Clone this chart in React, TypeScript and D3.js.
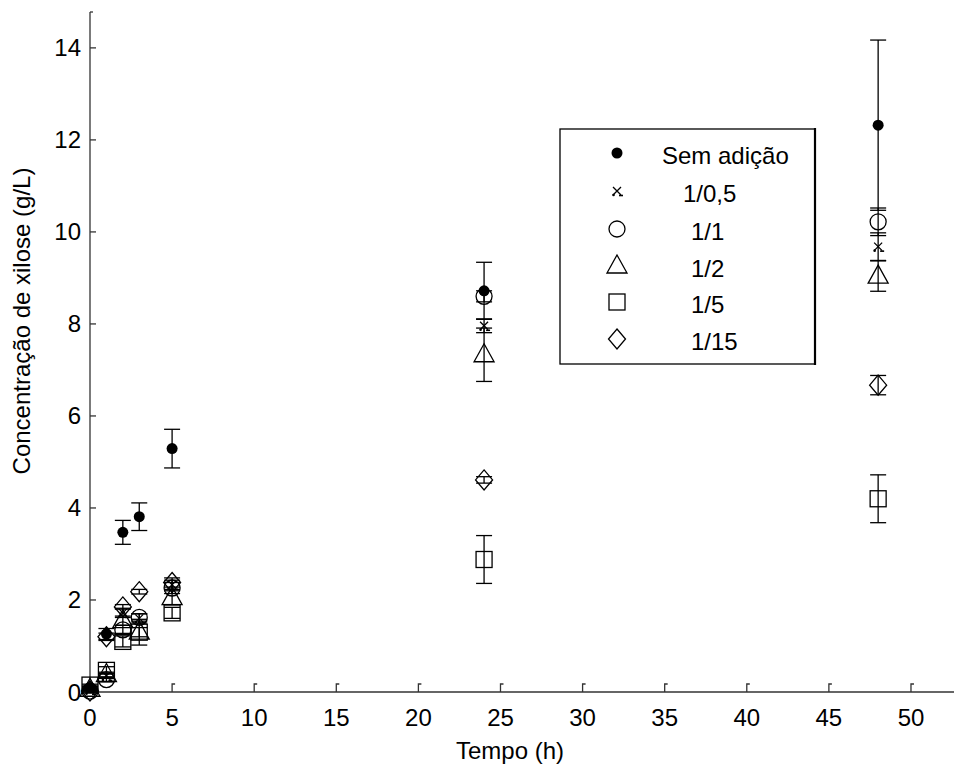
import React from "react";
import * as d3 from "d3";

const times = [0, 1, 2, 3, 5, 24, 48];
const seriesNames = ["Sem adição", "1/0,5", "1/1", "1/2", "1/5", "1/15"];
const semAdicao = [0.09, 1.26, 3.47, 3.81, 5.29, 8.72, 12.32];
const semAdicaoErr = [0.03, 0.12, 0.26, 0.3, 0.42, 0.62, 1.85];
const r1_05 = [0.05, 0.35, 1.72, 1.6, 2.33, 7.96, 9.68];
const r1_05Err = [0.03, 0.05, 0.1, 0.1, 0.1, 0.15, 0.3];
const r1_1 = [0.02, 0.27, 1.35, 1.62, 2.26, 8.6, 10.22];
const r1_1Err = [0.02, 0.05, 0.1, 0.08, 0.12, 0.12, 0.3];
const r1_2 = [0.06, 0.38, 1.55, 1.3, 2.05, 7.33, 9.04];
const r1_2Err = [0.03, 0.05, 0.1, 0.28, 0.15, 0.58, 0.33];
const r1_5 = [0.15, 0.47, 1.1, 1.3, 1.72, 2.88, 4.2];
const r1_5Err = [0.02, 0.08, 0.12, 0.1, 0.12, 0.52, 0.52];
const r1_15 = [0.02, 1.2, 1.85, 2.18, 2.38, 4.61, 6.67];
const r1_15Err = [0.02, 0.08, 0.05, 0.05, 0.1, 0.07, 0.21];
const xTicks = [0, 5, 10, 15, 20, 25, 30, 35, 40, 45, 50];
const yTicks = [0, 2, 4, 6, 8, 10, 12, 14];
const markers = ["dot", "x", "circle", "triangle", "square", "diamond"];

const values = [semAdicao, r1_05, r1_1, r1_2, r1_5, r1_15];
const errors = [semAdicaoErr, r1_05Err, r1_1Err, r1_2Err, r1_5Err, r1_15Err];

const W = 954;
const H = 772;
const FONT = "'Liberation Sans', Arial, sans-serif";

const x = d3.scaleLinear().domain([0, 52.62]).range([90, 954]);
const y = d3.scaleLinear().domain([0, 14.78]).range([692, 12]);

function Marker({ kind, cx, cy }: { kind: string; cx: number; cy: number }) {
  const s = { stroke: "#000", strokeWidth: 1.3, fill: "none" };
  if (kind === "dot") return <circle cx={cx} cy={cy} r={5.5} fill="#000" />;
  if (kind === "circle") return <circle cx={cx} cy={cy} r={8} {...s} />;
  if (kind === "square")
    return <rect x={cx - 8} y={cy - 8} width={16} height={16} {...s} />;
  if (kind === "triangle")
    return (
      <path
        d={`M${cx},${cy - 11} L${cx + 10},${cy + 7} L${cx - 10},${cy + 7} Z`}
        {...s}
      />
    );
  if (kind === "diamond")
    return (
      <path
        d={`M${cx},${cy - 10} L${cx + 8.5},${cy} L${cx},${cy + 10} L${cx - 8.5},${cy} Z`}
        {...s}
      />
    );
  // x marker with small dash
  return (
    <g>
      <path
        d={`M${cx - 4},${cy - 4} L${cx + 4},${cy + 4} M${cx + 4},${cy - 4} L${cx - 4},${cy + 4}`}
        {...s}
      />
      <path d={`M${cx + 2},${cy + 4.5} h4`} stroke="#000" strokeWidth={1.6} />
      <circle cx={cx - 3.5} cy={cy + 4} r={1.3} fill="#000" />
    </g>
  );
}

export default function App() {
  const legendX = 617;
  const legendRows = [153, 191, 229, 266, 302, 339];
  const legendTextX = [662, 683, 691, 691, 691, 691];
  return (
    <svg
      width={W}
      height={H}
      style={{ position: "absolute", left: 0, top: 0, background: "#fff" }}
      fontFamily={FONT}
    >
      <rect x={0} y={0} width={W} height={H} fill="#fff" />
      {/* axes */}
      <line x1={x(0)} x2={x(0)} y1={y(14.78)} y2={y(0)} stroke="#333" strokeWidth={1.3} />
      <line x1={x(0)} x2={W} y1={y(0)} y2={y(0)} stroke="#333" strokeWidth={1.3} />
      <path d={`M${x(0)},${y(14.78)} h3`} stroke="#333" strokeWidth={1.3} />
      {yTicks.map((t) => (
        <g key={"yt" + t}>
          <line x1={x(0)} x2={x(0) + 6} y1={y(t)} y2={y(t)} stroke="#333" strokeWidth={1.3} />
          <text
            x={81}
            y={y(t)}
            textAnchor="end"
            dominantBaseline="central"
            fontSize={24}
            fill="#000"
          >
            {t}
          </text>
        </g>
      ))}
      {xTicks.map((t) => (
        <g key={"xt" + t}>
          {t > 0 && (
            <path
              d={`M${x(t)},${y(0)} V${y(0) - 8} h3`}
              stroke="#333"
              strokeWidth={1.3}
              fill="none"
            />
          )}
          <text x={x(t)} y={726} textAnchor="middle" fontSize={24} fill="#000">
            {t}
          </text>
        </g>
      ))}
      <text x={510} y={759} textAnchor="middle" fontSize={24} fill="#000">
        Tempo (h)
      </text>
      <text
        transform={`translate(30,321) rotate(-90)`}
        textAnchor="middle"
        fontSize={24}
        fill="#000"
      >
        Concentração de xilose (g/L)
      </text>

      {/* error bars and markers */}
      {values.map((vals, si) => (
        <g key={"s" + si}>
          {vals.map((v, i) => {
            const cx = x(times[i]);
            const e = errors[si][i];
            return (
              <g key={i}>
                <line x1={cx} x2={cx} y1={y(v - e)} y2={y(v + e)} stroke="#000" strokeWidth={1.3} />
                <line x1={cx - 8} x2={cx + 8} y1={y(v - e)} y2={y(v - e)} stroke="#000" strokeWidth={1.3} />
                <line x1={cx - 8} x2={cx + 8} y1={y(v + e)} y2={y(v + e)} stroke="#000" strokeWidth={1.3} />
                <Marker kind={markers[si]} cx={cx} cy={y(v)} />
              </g>
            );
          })}
        </g>
      ))}

      {/* legend */}
      <rect x={560} y={129} width={255} height={235} fill="#fff" stroke="#000" strokeWidth={1.3} />
      <line x1={815} x2={815} y1={128} y2={365} stroke="#000" strokeWidth={2.2} />
      {seriesNames.map((n, i) => (
        <g key={"lg" + i}>
          <Marker kind={markers[i]} cx={legendX} cy={legendRows[i]} />
          <text
            x={legendTextX[i]}
            y={legendRows[i] + 2}
            dominantBaseline="central"
            fontSize={24}
            fill="#000"
          >
            {n}
          </text>
        </g>
      ))}
    </svg>
  );
}
